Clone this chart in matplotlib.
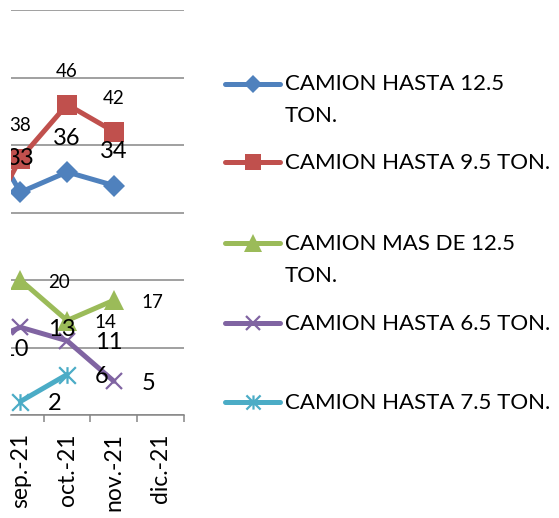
import numpy as np
import matplotlib
matplotlib.use("Agg")
import matplotlib.pyplot as plt
from matplotlib.lines import Line2D
from matplotlib.path import Path

plt.rcParams['font.family'] = ['Lato', 'DejaVu Sans']

# ---- data ----
categories = ['ago.-21', 'sep.-21', 'oct.-21', 'nov.-21', 'dic.-21']
nan = np.nan
camion_125 = [45, 33, 36, 34, nan]
camion_95 = [25, 38, 46, 42, nan]
camion_mas125 = [nan, 20, 14, 17, nan]
camion_65 = [10, 13, 11, 5, nan]
camion_75 = [nan, 2, 6, nan, nan]
series_names = ['CAMION HASTA 12.5\nTON.', 'CAMION HASTA 9.5 TON.',
                'CAMION MAS DE 12.5\nTON.', 'CAMION HASTA 6.5 TON.',
                'CAMION HASTA 7.5 TON.']

W, H = 559, 518
DPI = 100
fig = plt.figure(figsize=(W / DPI, H / DPI), dpi=DPI)

def fx(px):
    return px / W

def fy(py):
    return 1 - py / H

XMIN, XMAX = 0.8, 4.5
ax_left, ax_right, ax_top, ax_bottom = 11, 184, 10, 415
ax = fig.add_axes([fx(ax_left), fy(ax_bottom), fx(ax_right - ax_left), (ax_bottom - ax_top) / H])

asterisk = Path([(0, -1), (0, 1), (-1, -1), (1, 1), (-1, 1), (1, -1)],
                [Path.MOVETO, Path.LINETO, Path.MOVETO, Path.LINETO, Path.MOVETO, Path.LINETO])

styles = [
    dict(color='#4F81BD', marker='D', ms=11, mew=0, label_pos='above', fs=17),
    dict(color='#C0504D', marker='s', ms=14, mew=0, label_pos='above', fs=13.5),
    dict(color='#9BBB59', marker='^', ms=15, mew=0, label_pos='right', fs=13.5),
    dict(color='#8064A2', marker='x', ms=12, mew=1.6, label_pos='right', fs=17),
    dict(color='#4BACC6', marker=asterisk, ms=12, mew=1.6, label_pos='right', fs=17),
]
all_series = [camion_125, camion_95, camion_mas125, camion_65, camion_75]

x = np.arange(len(categories))
for vals, st in zip(all_series, styles):
    v = np.array(vals, dtype=float)
    ax.plot(x, v, color=st['color'], lw=3.6, marker=st['marker'], ms=st['ms'],
            mew=st['mew'], mec=st['color'], mfc=st['color'], solid_capstyle='round',
            solid_joinstyle='round', zorder=3, clip_on=True)
    for xi, vi in zip(x, v):
        if np.isnan(vi):
            continue
        if st['label_pos'] == 'above':
            if xi < XMIN:
                continue  # label entirely outside the visible area
            ax.annotate(f"{int(vi)}", (xi, vi), xytext=(0, 19.5), textcoords='offset points',
                        ha='center', va='baseline', fontsize=st['fs'], color='black',
                        annotation_clip=False, clip_on=True, zorder=4)
        else:
            ax.annotate(f"{int(vi)}", (xi, vi), xytext=(20, -1.5), textcoords='offset points',
                        ha='left', va='center', fontsize=st['fs'], color='black',
                        annotation_clip=False, clip_on=True, zorder=4)

ax.set_yticks(np.arange(0, 61, 10))
ax.yaxis.grid(True, color='#868686', lw=1.1)
ax.set_axisbelow(True)
ax.tick_params(axis='y', left=False, labelleft=False)
for s in ['left', 'right', 'top']:
    ax.spines[s].set_visible(False)
ax.spines['bottom'].set_color('#868686')
ax.spines['bottom'].set_linewidth(1.1)

ax.set_xticks(x)
ax.set_xticklabels(categories, rotation=90, fontsize=16.5, va='top', ha='center')
ax.tick_params(axis='x', which='major', length=0, pad=13)
ax.set_xticks(x + 0.5, minor=True)
ax.tick_params(axis='x', which='minor', length=5, color='#868686', width=1.1)
ax.set_xlim(XMIN, XMAX)
ax.set_ylim(0, 60)

# ---- legend drawn manually ----
handle_y = [83.5, 162, 243, 323, 402]
for name, st, hy in zip(series_names, styles, handle_y):
    fig.add_artist(Line2D([fx(225), fx(280)], [fy(hy), fy(hy)], color=st['color'], lw=3.6,
                          solid_capstyle='round', transform=fig.transFigure))
    fig.add_artist(Line2D([fx(252.5)], [fy(hy)], color=st['color'], marker=st['marker'],
                          ms=st['ms'] * 0.85, mew=st['mew'], mec=st['color'], mfc=st['color'],
                          transform=fig.transFigure))
    for i, line in enumerate(name.split('\n')):
        fig.text(fx(285), fy(hy + 7 + 32 * i), line, fontsize=16, ha='left', va='baseline',
                 color='black')

fig.savefig('out.png', dpi=DPI, facecolor='white')
